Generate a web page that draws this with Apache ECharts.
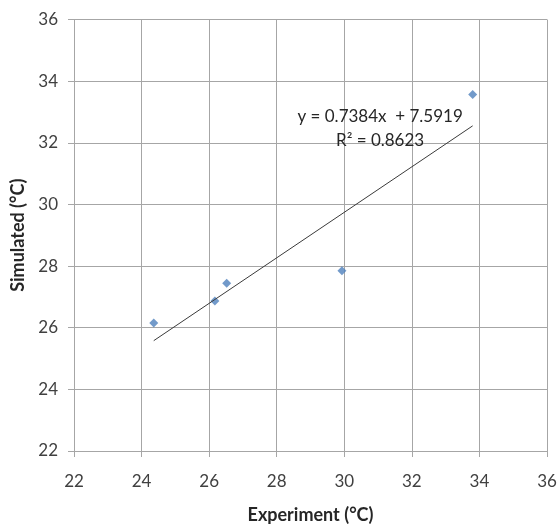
<!DOCTYPE html>
<html>
<head>
<meta charset="utf-8">
<script src="https://cdn.jsdelivr.net/npm/echarts@6/dist/echarts.min.js"></script>
<style>
  html, body { margin: 0; padding: 0; background: #fff; }
  #chart { width: 559px; height: 525px; }
</style>
</head>
<body>
<div id="chart"></div>
<script>
// measured vs simulated temperature
const experiment = [24.36, 26.17, 26.52, 29.93, 33.80];
const simulated  = [26.15, 26.87, 27.44, 27.85, 33.57];
// linear trend as printed on the chart
const slope = 0.7384;
const intercept = 7.5919;
const rSquared = 0.8623;
const eqAnchor = [31.06, 32.45]; // where the equation text sits, in data units

const xMin = Math.min(...experiment), xMax = Math.max(...experiment);
const trendLine = [xMin, xMax].map(x => [x, slope * x + intercept]);
const points = experiment.map((x, i) => [x, simulated[i]]);

const font = 'Lato, "Open Sans", sans-serif';
const gridColor = '#a6a6a6';

const axisCommon = {
  type: 'value', min: 22, max: 36, interval: 2,
  nameLocation: 'middle',
  nameTextStyle: { fontFamily: font, fontSize: 18, fontWeight: 'bold', color: '#262626' },
  axisLine: { show: true, lineStyle: { color: gridColor } },
  axisTick: { show: true, length: 6, lineStyle: { color: gridColor } },
  splitLine: { show: true, lineStyle: { color: gridColor, width: 1 } },
  axisLabel: { fontFamily: font, fontSize: 17, color: '#404040' }
};

const chart = echarts.init(document.getElementById('chart'));
chart.setOption({
  animation: false,
  grid: { left: 74, right: 12, top: 19.5, bottom: 74, outerBoundsMode: 'none', containLabel: false },
  xAxis: Object.assign({}, axisCommon, {
    name: 'Experiment (°C)', nameGap: 55,
    axisLabel: Object.assign({}, axisCommon.axisLabel, { margin: 22 })
  }),
  yAxis: Object.assign({}, axisCommon, {
    name: 'Simulated (°C)', nameGap: 47,
    axisLabel: Object.assign({}, axisCommon.axisLabel, { margin: 16 })
  }),
  series: [
    {
      type: 'line', data: trendLine, symbol: 'none', silent: true,
      lineStyle: { color: '#3a3a3a', width: 1 },
      markPoint: {
        symbol: 'circle', symbolSize: 1, silent: true,
        itemStyle: { color: 'rgba(0,0,0,0)' },
        data: [{ coord: eqAnchor }],
        label: {
          show: true, position: 'inside', align: 'center', verticalAlign: 'middle',
          fontFamily: font, fontSize: 17, color: '#262626', lineHeight: 24,
          formatter: () => 'y = ' + slope + 'x  + ' + intercept + '\nR² = ' + rSquared
        }
      }
    },
    {
      type: 'scatter', data: points, symbol: 'diamond', symbolSize: 9,
      itemStyle: { color: '#4f81bd' }
    }
  ]
});
</script>
</body>
</html>
